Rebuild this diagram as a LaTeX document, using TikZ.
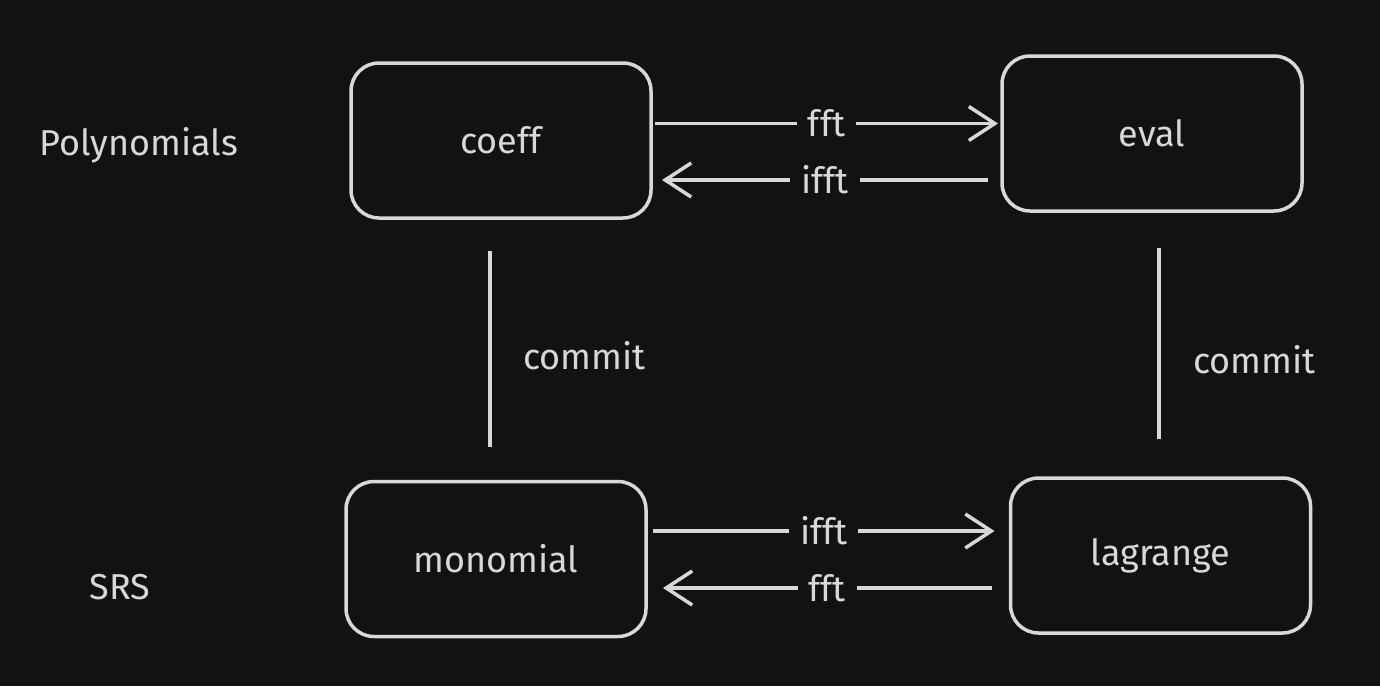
\documentclass[tikz,border=0pt]{standalone}
\usepackage{fontspec}
\setmainfont{Fira Sans}
\usetikzlibrary{arrows.meta}
\definecolor{bgdark}{HTML}{121212}
\definecolor{chalk}{HTML}{D8D8D8}
\tikzset{every picture/.style={line width=3.5pt}}
\tikzset{
  polybox/.style={draw=chalk, rounded corners=28pt, minimum width=300pt, minimum height=155pt, inner sep=0pt, outer sep=0pt, text=chalk},
  maplabel/.style={fill=bgdark, text=chalk, inner xsep=11pt, inner ysep=6pt},
  maparrow/.style={draw=chalk, -{Straight Barb[length=26pt,width=34pt,line width=3.5pt]}}
}

\begin{document}
\begin{tikzpicture}[x=1pt,y=1pt,yscale=-1,font=\fontsize{36}{42}\selectfont]
  %set diagram size: 1380 x 686
  \fill[bgdark] (0,0) rectangle (1380,686);
  \useasboundingbox (0,0) rectangle (1380,686);

  %Shape: Rectangle [coeff]
  \node[polybox] (coeff) at (501,140.5) {coeff};
  %Shape: Rectangle [eval]
  \node[polybox] (eval) at (1152,133.5) {eval};
  %Shape: Rectangle [monomial]
  \node[polybox] (monomial) at (496,559) {monomial};
  %Shape: Rectangle [lagrange]
  \node[polybox] (lagrange) at (1160.5,555.5) {lagrange};

  % Text Node
  \node[text=chalk] (polys) at (139,145) {Polynomials};
  % Text Node
  \node[text=chalk] (srs) at (120,587) {SRS};

  %Right Arrow [fft, top]
  \draw[maparrow] ([xshift=4,yshift=-17]coeff.east) -- ([xshift=-4,yshift=-10]eval.west)
    node[maplabel, midway] (fftup) {fft};
  %Left Arrow [ifft, top]
  \draw[maparrow] ([xshift=-14,yshift=46.5]eval.west) -- ([xshift=11,yshift=39.5]coeff.east)
    node[maplabel, midway] (ifftup) {ifft};
  %Right Arrow [ifft, bottom]
  \draw[maparrow] ([xshift=7,yshift=-28]monomial.east) -- ([xshift=-16,yshift=-24.5]lagrange.west)
    node[maplabel, midway] (ifftdown) {ifft};
  %Left Arrow [fft, bottom]
  \draw[maparrow] ([xshift=-19,yshift=32.5]lagrange.west) -- ([xshift=17,yshift=29]monomial.east)
    node[maplabel, midway] (fftdown) {fft};

  %Line [commit, left]
  \draw[chalk, shorten <=33pt, shorten >=35pt] ([xshift=-11]coeff.south) -- ([xshift=-6]monomial.north)
    node[text=chalk, midway, anchor=west, xshift=28, yshift=-6] (commitl) {commit};
  %Line [commit, right]
  \draw[chalk, shorten <=37pt, shorten >=39pt] ([xshift=7]eval.south) -- ([xshift=-1.5]lagrange.north)
    node[text=chalk, midway, anchor=west, xshift=29, yshift=-15] (commitr) {commit};
\end{tikzpicture}
\end{document}
